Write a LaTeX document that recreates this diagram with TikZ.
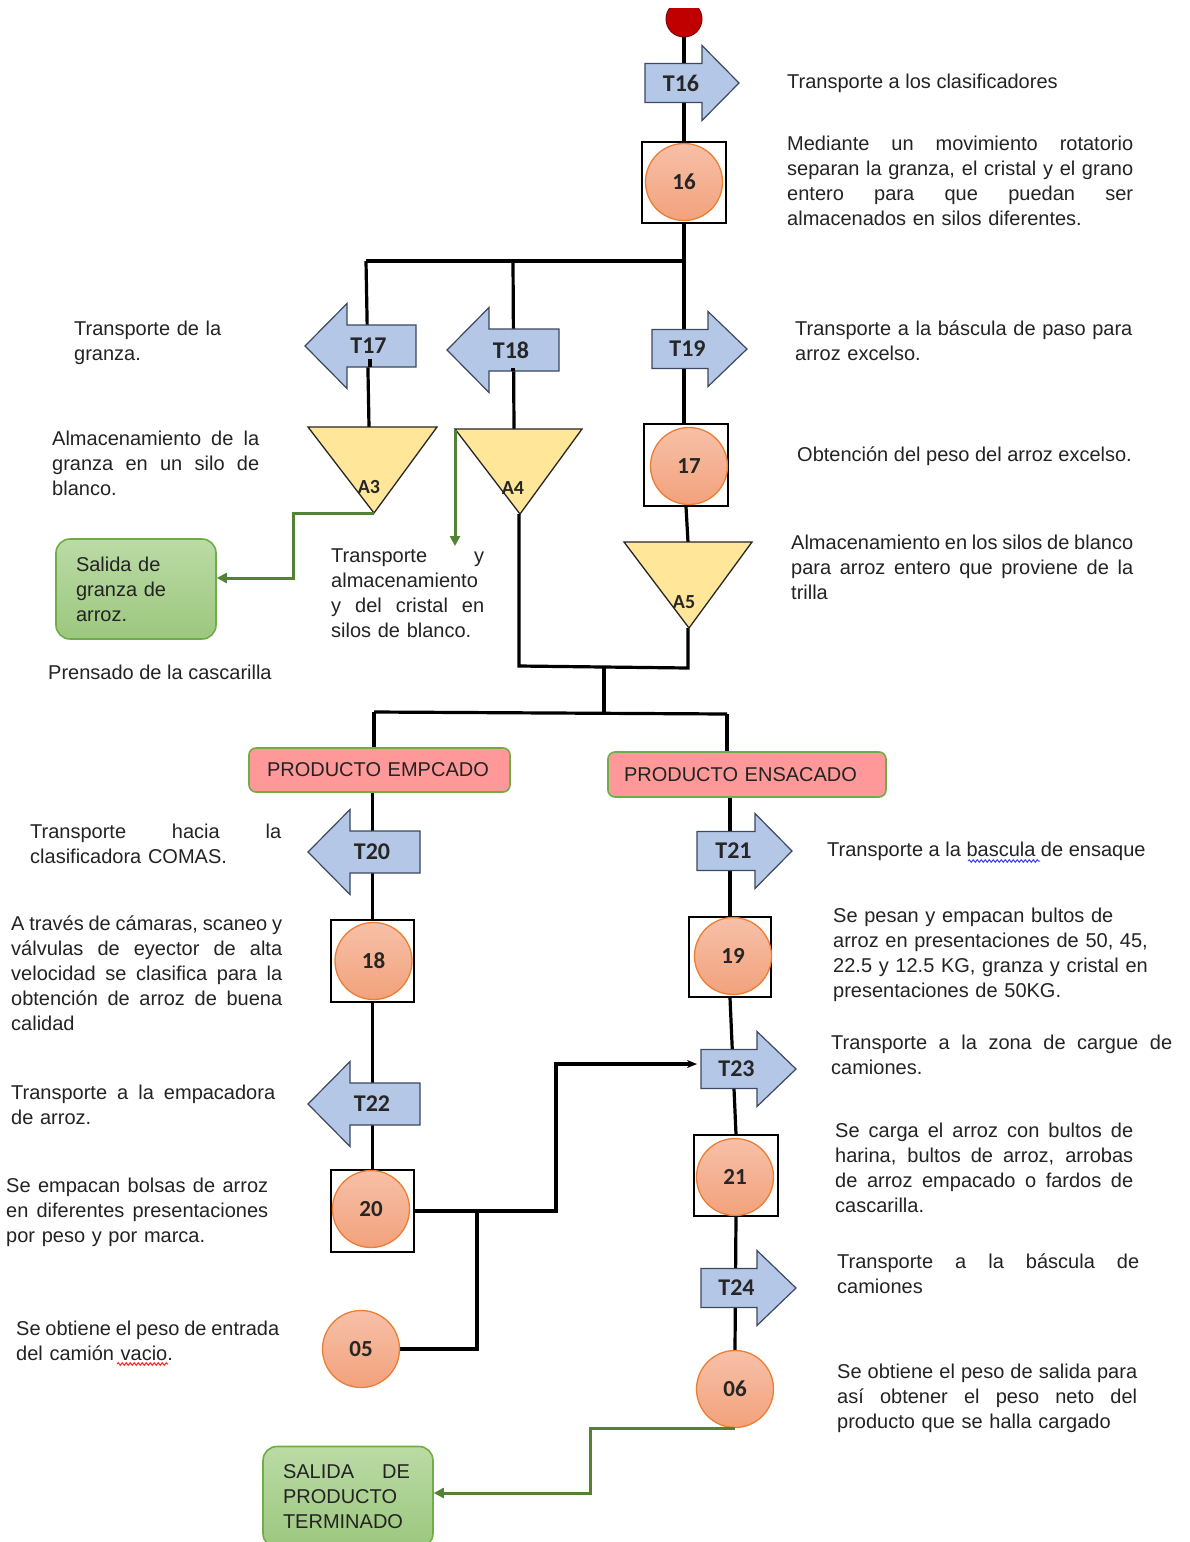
\documentclass[tikz,border=0pt]{standalone}
\usepackage{fontspec}
\setmainfont{Liberation Sans}
\newfontfamily\lblfont{Carlito}
\usetikzlibrary{arrows.meta,decorations.pathmorphing}
\pgfdeclarelayer{bg}
\pgfsetlayers{bg,main}
\definecolor{arrfill}{RGB}{180,199,231}
\definecolor{arrdraw}{RGB}{60,72,95}
\definecolor{circtop}{RGB}{247,192,168}
\definecolor{circbot}{RGB}{242,162,124}
\definecolor{circdraw}{RGB}{237,125,49}
\definecolor{trifill}{RGB}{255,230,153}
\definecolor{gtop}{RGB}{187,219,166}
\definecolor{gbot}{RGB}{156,199,126}
\definecolor{gdraw}{RGB}{112,173,71}
\definecolor{pinkfill}{RGB}{255,153,153}
\definecolor{gline}{RGB}{84,130,53}
\definecolor{txtc}{RGB}{35,35,35}
\definecolor{startred}{RGB}{192,0,0}
\newcommand{\J}[2]{{\spaceskip=0.278em plus 1fil minus 0.12em\xspaceskip=\spaceskip\makebox[#1pt][s]{#2}}}
% right arrow: name, x left, x head base, x tip, y centre, label
\newcommand{\RArrow}[6]{%
  \filldraw[arrstyle] (#2,#5-19.5) -- (#3,#5-19.5) -- (#3,#5-37.5) -- (#4,#5) -- (#3,#5+37.5) -- (#3,#5+19.5) -- (#2,#5+19.5) -- cycle;
  \node[tlabel] (#1) at ({(#2+#3)/2+7.5},#5) {#6};}
% left arrow: name, x tip, x head base, x right, y centre, label
\newcommand{\LArrow}[6]{%
  \filldraw[arrstyle] (#4,#5-21) -- (#3,#5-21) -- (#3,#5-42.5) -- (#2,#5) -- (#3,#5+42.5) -- (#3,#5+21) -- (#4,#5+21) -- cycle;
  \node[tlabel] (#1) at ({(#3+#4)/2-13},#5) {#6};}
\tikzset{
  conn/.style={line width=3.2pt, black},
  gconn/.style={line width=3pt, gline, -{Triangle[length=10pt,width=10pt]}},
  arrstyle/.style={fill=arrfill, draw=arrdraw, line width=1.2pt, line join=miter},
  tlabel/.style={font=\lblfont\bfseries\fontsize{24}{24}\selectfont, text=black!85, inner sep=0},
  alabel/.style={font=\lblfont\bfseries\fontsize{20}{20}\selectfont, text=black!85, inner sep=0},
  sq/.style={draw=black, line width=1.5pt, fill=white, inner sep=0},
  circ/.style={circle, draw=circdraw, line width=1.3pt, top color=circtop, bottom color=circbot, minimum size=77pt, inner sep=0, font=\lblfont\bfseries\fontsize{23}{23}\selectfont, text=black!85},
  tri/.style={fill=trifill, draw=black!85, line width=1.3pt, line join=miter},
  gbox/.style={rounded corners=14pt, draw=gdraw, line width=1.6pt, top color=gtop, bottom color=gbot, inner ysep=0, font=\fontsize{20}{25}\selectfont, text=txtc, align=left},
  pbox/.style={rounded corners=7pt, draw=gdraw, line width=1.6pt, fill=pinkfill, inner ysep=0, font=\fontsize{20}{25}\selectfont, text=txtc, align=left},
  txt/.style={font=\fontsize{20}{25}\selectfont, inner sep=0, anchor=base west, align=left, text=txtc},
}
\begin{document}
\begin{tikzpicture}[x=1pt, y=-1pt]
\useasboundingbox (0,0) rectangle (1189,1542);
\begin{pgfonlayer}{bg}
\fill[white] (0,0) rectangle (1189,1542);
\end{pgfonlayer}

% start
\begin{scope}
  \clip (660,8) rectangle (710,45);
  \filldraw[fill=startred, draw=startred!70!black, line width=1pt] (684,19) circle (18);
\end{scope}
\coordinate (start) at (684,37);

% arrows
\RArrow{t16}{645}{702}{739}{83}{T16}
\LArrow{t17}{305}{347}{416}{346}{T17}
\LArrow{t18}{447}{489}{559}{350}{T18}
\RArrow{t19}{652}{708}{747}{349}{T19}
\LArrow{t20}{308}{350}{420}{852}{T20}
\RArrow{t21}{697}{755}{792}{851}{T21}
\LArrow{t22}{308}{350}{420}{1104}{T22}
\RArrow{t23}{701}{757}{796}{1069}{T23}
\RArrow{t24}{701}{757}{796}{1288}{T24}
\draw[conn] (370,359) -- (370,367);
\draw[conn] (513,368) -- (513,371);

% boxes and circles
\node[sq, minimum width=84pt, minimum height=81pt] (b16) at (684,182.5) {};
\node[circ] (c16) at (684,182) {16};
\node[sq, minimum width=84pt, minimum height=82pt] (b17) at (686,465) {};
\node[circ] (c17) at (689,466) {17};
\node[sq, minimum width=83pt, minimum height=82pt] (b18) at (372.5,961) {};
\node[circ] (c18) at (373.5,961) {18};
\node[sq, minimum width=83pt, minimum height=82pt] (b20) at (372.5,1211) {};
\node[circ] (c20) at (371,1209) {20};
\node[sq, minimum width=82pt, minimum height=80pt] (b19) at (730,957) {};
\node[circ] (c19) at (733,956) {19};
\node[sq, minimum width=84pt, minimum height=81pt] (b21) at (736,1175.5) {};
\node[circ] (c21) at (735,1177) {21};
\node[circ] (c05) at (361,1349) {05};
\node[circ] (c06) at (735,1389) {06};

% triangles
\filldraw[tri] (308,427) -- (437,427) -- (374,513) -- cycle;
\node[alabel] (a3) at (369,487) {A3};
\filldraw[tri] (455,429) -- (582,429) -- (520,514) -- cycle;
\node[alabel] (a4) at (513,488) {A4};
\filldraw[tri] (624,542) -- (752,542) -- (689,628) -- cycle;
\node[alabel] (a5) at (684,602) {A5};
\coordinate (a3top) at (369,427);
\coordinate (a3bot) at (374,513);
\coordinate (a4top) at (514,429);
\coordinate (a4tl) at (455,430);
\coordinate (a4bot) at (519,514);
\coordinate (a5top) at (688,542);
\coordinate (a5bot) at (688,628);

% pink boxes
\node[pbox, minimum width=261pt, minimum height=44pt, text width=225pt, inner xsep=18pt] (pe) at (379.5,770) {PRODUCTO EMPCADO};
\node[pbox, minimum width=278pt, minimum height=45pt, text width=246pt, inner xsep=16pt] (ps) at (747,774.5) {PRODUCTO ENSACADO};

% green boxes
\node[gbox, minimum width=160pt, minimum height=100pt, text width=120pt, inner xsep=20pt] (g1) at (136,589) {Salida de\\granza de\\arroz.};
\node[gbox, minimum width=170pt, minimum height=101pt, text width=130pt, inner xsep=20pt] (g2) at (348,1497) {\J{127}{SALIDA DE}\\PRODUCTO\\TERMINADO};

% junctions
\coordinate (j0) at (366,261);
\coordinate (j1) at (684,261);
\coordinate (j18) at (513,261);
\coordinate (j3) at (519,666);
\coordinate (j4) at (688,668);
\coordinate (j5) at (604,667);
\coordinate (j6) at (604,713);
\coordinate (j7) at (374,712);
\coordinate (j8) at (727,714);
\coordinate (j9) at (556,1064);
\coordinate (t23in) at (697,1064);
\coordinate (j10) at (477,1211);
\coordinate (j11) at (293,513);
\coordinate (j12) at (293,578);
\coordinate (a4g) at (455,546);
\coordinate (j14) at (590,1493);

\begin{pgfonlayer}{bg}
\draw[conn] (start) -- (b16.north);
\draw[conn] (b16.south) -- (j1);
\draw[conn] (j1) -- (j0);
\draw[conn] (j1) -- (j1 |- b17.north);
\draw[conn] (j0) -- (a3top);
\draw[conn] (j18) -- (a4top);
\draw[conn] (b17.south) -- (a5top);
\draw[conn] (a4bot) -- (j3) -- (j4) -- (a5bot);
\draw[conn] (j5) -- (j6);
\draw[conn] (j7) -- (j8);
\draw[conn] (j7) -- (j7 |- pe.north);
\draw[conn] (j8) -- (j8 |- ps.north);
\draw[conn] (b18 |- pe.south) -- (b18.north);
\draw[conn] (b18.south) -- (b20.north);
\draw[conn] (b19 |- ps.south) -- (b19.north);
\draw[conn] (b19.south) -- (b21.north);
\draw[conn] (b21.south) -- (c06.north);
\draw[conn] (c05.east) -| (j10);
\end{pgfonlayer}
\draw[conn, -{Stealth[length=10pt,width=8pt]}] (b20.east) -| (j9) -- (t23in);
\draw[gconn] (a3bot) -- (j11) -- (j12) -- (j12 -| g1.east);
\draw[gconn] (a4tl) -- (a4g);
\draw[gconn] (c06.south) -| (j14) -- (j14 -| g2.east);

% texts right
\node[txt] (r1) at (787,88) {Transporte a los clasificadores};
\node[txt, text width=346pt] (r2) at (787,150) {\J{346}{Mediante un movimiento rotatorio}\\\J{346}{separan la granza, el cristal y el grano}\\\J{346}{entero para que puedan ser}\\almacenados en silos diferentes.};
\node[txt, text width=340pt] (r3) at (795,335) {Transporte a la báscula de paso para\\arroz excelso.};
\node[txt] (r4) at (797,461) {Obtención del peso del arroz excelso.};
\node[txt, text width=342pt] (r5) at (791,549) {\J{342}{Almacenamiento en los silos de blanco}\\\J{342}{para arroz entero que proviene de la}\\trilla};
\node[txt] (r6) at (827,856) {Transporte a la bascula de ensaque};
\node[txt, text width=340pt] (r7) at (833,922) {Se pesan y empacan bultos de\\arroz en presentaciones de 50, 45,\\22.5 y 12.5 KG, granza y cristal en\\presentaciones de 50KG.};
\node[txt, text width=341pt] (r8) at (831,1049) {\J{341}{Transporte a la zona de cargue de}\\camiones.};
\node[txt, text width=298pt] (r9) at (835,1137) {\J{298}{Se carga el arroz con bultos de}\\\J{298}{harina, bultos de arroz, arrobas}\\\J{298}{de arroz empacado o fardos de}\\cascarilla.};
\node[txt, text width=302pt] (r10) at (837,1268) {\J{302}{Transporte a la báscula de}\\camiones};
\node[txt, text width=300pt] (r11) at (837,1378) {\J{300}{Se obtiene el peso de salida para}\\\J{300}{así obtener el peso neto del}\\producto que se halla cargado};

% texts left
\node[txt, text width=200pt] (l1) at (74,335) {Transporte de la\\granza.};
\node[txt, text width=207pt] (l2) at (52,445) {\J{207}{Almacenamiento de la}\\\J{207}{granza en un silo de}\\blanco.};
\node[txt, text width=153pt] (l3) at (331,562) {\J{153}{Transporte y}\\almacenamiento\\\J{153}{y del cristal en}\\silos de blanco.};
\node[txt] (l4) at (48,679) {Prensado de la cascarilla};
\node[txt, text width=251pt] (l5) at (30,838) {\J{251}{Transporte hacia la}\\clasificadora COMAS.};
\node[txt, text width=271pt] (l6) at (11,930) {\J{271}{A través de cámaras, scaneo y}\\\J{271}{válvulas de eyector de alta}\\\J{271}{velocidad se clasifica para la}\\\J{271}{obtención de arroz de buena}\\calidad};
\node[txt, text width=264pt] (l7) at (11,1099) {\J{264}{Transporte a la empacadora}\\de arroz.};
\node[txt, text width=262pt] (l8) at (6,1192) {\J{262}{Se empacan bolsas de arroz}\\\J{262}{en diferentes presentaciones}\\por peso y por marca.};
\node[txt, text width=263pt] (l9) at (16,1335) {\J{263}{Se obtiene el peso de entrada}\\del camión vacio.};

% spell-check marks
\draw[blue!75, line width=1pt, decorate, decoration={snake, amplitude=1.3pt, segment length=4pt}] (968,861) -- (1040,861);
\draw[red!85, line width=1pt, decorate, decoration={snake, amplitude=1.3pt, segment length=4pt}] (117,1364) -- (168,1364);
\end{tikzpicture}
\end{document}
